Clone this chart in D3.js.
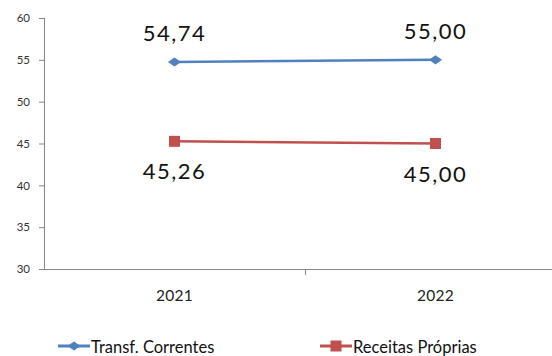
<!DOCTYPE html>
<html>
<head>
<meta charset="utf-8">
<script src="https://cdn.jsdelivr.net/npm/d3@7"></script>
<style>
  html, body { margin: 0; padding: 0; background: #fff; }
  svg { display: block; }
</style>
</head>
<body>
<svg id="chart" width="552" height="356"></svg>
<script>
// Chart data
const years = ["2021", "2022"];
const transfCorrentes = [54.74, 55.00];
const receitasProprias = [45.26, 45.00];
const yTicks = [30, 35, 40, 45, 50, 55, 60];
const seriesNames = ["Transf. Correntes", "Receitas Próprias"];
const seriesColors = ["#4f81bd", "#c0504d"];

const svg = d3.select("#chart");
const fontFamily = "Lato, 'Open Sans', sans-serif";

const plot = { left: 44, right: 566, top: 18, bottom: 269 };

const x = d3.scaleBand().domain(years).range([plot.left, plot.right]);
const y = d3.scaleLinear().domain([30, 60]).range([plot.bottom, plot.top]);

const axisColor = "#868686";

// Y axis
const yAxis = svg.append("g")
  .attr("transform", `translate(${plot.left},0)`)
  .call(d3.axisLeft(y).tickValues(yTicks).tickSize(5).tickPadding(9).tickFormat(d3.format("d")));
yAxis.select(".domain").attr("stroke", axisColor).attr("d", `M0.5,${plot.top}V${plot.bottom}`);
yAxis.selectAll(".tick line").attr("stroke", axisColor);
yAxis.selectAll(".tick text").attr("fill", "#333").style("font-family", fontFamily).style("font-size", "11.5px");

// X axis
const xAxis = svg.append("g")
  .attr("transform", `translate(0,${plot.bottom})`)
  .call(d3.axisBottom(x).tickSize(0).tickPadding(21));
xAxis.select(".domain").attr("stroke", axisColor).attr("d", `M${plot.left},0.5H${plot.right}`);
xAxis.selectAll(".tick text").attr("fill", "#222").style("font-family", fontFamily)
  .style("font-size", "15.5px").style("letter-spacing", "0.3px");
// category separator ticks
xAxis.selectAll(".sep").data(years.slice(1)).enter().append("line")
  .attr("class", "sep")
  .attr("x1", d => Math.round(x(d)) + 0.5).attr("x2", d => Math.round(x(d)) + 0.5)
  .attr("y1", 0).attr("y2", 6)
  .attr("stroke", axisColor);

const cx = d => x(d) + x.bandwidth() / 2;
const series = [transfCorrentes, receitasProprias];

const line = d3.line().x((d, i) => cx(years[i])).y(d => y(d));

series.forEach((vals, s) => {
  svg.append("path")
    .attr("d", line(vals))
    .attr("fill", "none")
    .attr("stroke", seriesColors[s])
    .attr("stroke-width", 2.5);
});

// markers: flattened diamond for the first series, square for the second
const diamond = d3.symbol().type(d3.symbolDiamond2).size(60);
const square = d3.symbol().type(d3.symbolSquare).size(121);
function drawMarker(g, s, px, py) {
  g.append("path")
    .attr("d", s === 0 ? diamond() : square())
    .attr("transform", s === 0 ? `translate(${px},${py}) scale(1.35,0.95)` : `translate(${px},${py})`)
    .attr("fill", seriesColors[s]);
}
series.forEach((vals, s) => {
  vals.forEach((v, i) => drawMarker(svg, s, cx(years[i]), y(v)));
});

// data labels
const fmt = v => d3.format(".2f")(v).replace(".", ",");
series.forEach((vals, s) => {
  svg.selectAll(null).data(vals).enter().append("text")
    .attr("x", (d, i) => cx(years[i]))
    .attr("y", d => s === 0 ? y(d) - 21 : y(d) + 38)
    .attr("text-anchor", "middle")
    .attr("fill", "#111")
    .style("font-family", fontFamily)
    .style("font-size", "22px")
    .style("letter-spacing", "1.5px")
    .text(fmt);
});

// legend
const legendY = 346;
const legendItems = [{ x0: 58, x1: 90 }, { x0: 320, x1: 352 }];
legendItems.forEach((item, s) => {
  svg.append("line")
    .attr("x1", item.x0).attr("x2", item.x1)
    .attr("y1", legendY).attr("y2", legendY)
    .attr("stroke", seriesColors[s]).attr("stroke-width", 3);
  drawMarker(svg, s, (item.x0 + item.x1) / 2, legendY);
  svg.append("text")
    .attr("x", item.x1 + 1)
    .attr("y", legendY + 7)
    .attr("fill", "#111")
    .style("font-family", fontFamily)
    .style("font-size", "16.5px")
    .text(seriesNames[s]);
});
</script>
</body>
</html>
